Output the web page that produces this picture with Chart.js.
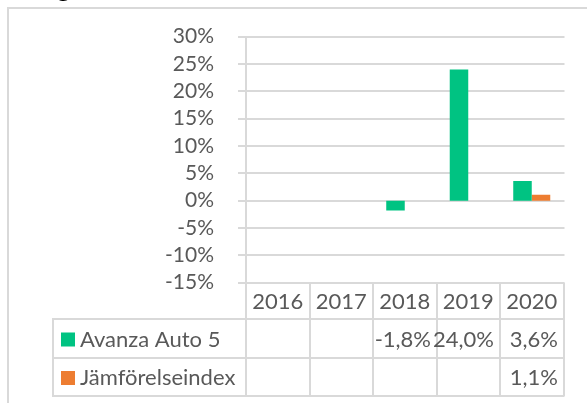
<!DOCTYPE html>
<html>
<head>
<meta charset="utf-8">
<script src="https://cdn.jsdelivr.net/npm/chart.js@4"></script>
<style>
  html, body { margin: 0; padding: 0; background: #fff; }
  #wrap { width: 587px; height: 403px; position: relative; }
</style>
</head>
<body>
<div id="wrap"><canvas id="chart" width="587" height="403"></canvas></div>
<script>
const years = ["2016", "2017", "2018", "2019", "2020"];
const avanzaAuto5 = [null, null, -1.8, 24.0, 3.6];
const jamforelseindex = [null, null, null, null, 1.1];
const seriesNames = ["Avanza Auto 5", "Jämförelseindex"];
const seriesColors = ["#00C382", "#ED7D31"];
const yMin = -15, yMax = 30, yStep = 5;

const FONT = "Lato, 'Open Sans', sans-serif";
const GRID = "#D9D9D9";
const TEXT = "#595959";

const fmt = v => (v === null ? "" : v.toFixed(1).replace(".", ",") + "%");

// horizontal value gridlines, taken from the y scale ticks
const gridPlugin = {
  id: "valueGrid",
  beforeDatasetsDraw(chart) {
    const { ctx, chartArea, scales } = chart;
    const y = scales.y;
    ctx.save();
    ctx.strokeStyle = GRID;
    ctx.lineWidth = 2;
    ctx.beginPath();
    y.ticks.forEach(t => {
      const py = Math.round(y.getPixelForValue(t.value));
      ctx.moveTo(chartArea.left - 8, py);
      ctx.lineTo(chartArea.right + 1, py);
    });
    ctx.stroke();
    ctx.restore();
  }
};

// draws the data table under the plot plus the outer frame
const tablePlugin = {
  id: "dataTable",
  afterDraw(chart) {
    const { ctx, chartArea, scales } = chart;
    const x = scales.x;
    const left = chartArea.left, right = chartArea.right;
    const colW = (right - left) / years.length;
    const top = chartArea.bottom;
    const row1 = 319, row2 = 358, bottom = 396;
    const legendLeft = 53;

    ctx.save();
    ctx.strokeStyle = GRID;
    ctx.lineWidth = 2;

    // outer frame (only top/left visible)
    ctx.beginPath();
    ctx.moveTo(8, 403);
    ctx.lineTo(8, 8);
    ctx.lineTo(587, 8);
    ctx.stroke();

    ctx.beginPath();
    ctx.moveTo(legendLeft - 1, row1); ctx.lineTo(right + 1, row1);
    ctx.moveTo(legendLeft - 1, row2); ctx.lineTo(right + 1, row2);
    ctx.moveTo(legendLeft - 1, bottom); ctx.lineTo(right + 1, bottom);
    ctx.moveTo(legendLeft, row1); ctx.lineTo(legendLeft, bottom);
    for (let i = 0; i <= years.length; i++) {
      const cx = Math.round(left + i * colW);
      ctx.moveTo(cx, i === 0 ? chartArea.top : top);
      ctx.lineTo(cx, bottom);
    }
    ctx.stroke();

    ctx.font = "22px " + FONT;
    ctx.fillStyle = TEXT;
    ctx.textBaseline = "middle";

    ctx.textAlign = "center";
    years.forEach((yr, i) => {
      ctx.fillText(yr, x.getPixelForValue(i), (top + row1) / 2 + 1);
    });

    const rows = [avanzaAuto5, jamforelseindex];
    const rowMid = [(row1 + row2) / 2 + 1, (row2 + bottom) / 2 + 1];
    rows.forEach((vals, r) => {
      ctx.fillStyle = seriesColors[r];
      ctx.fillRect(61, rowMid[r] - 7, 14, 14);
      ctx.fillStyle = TEXT;
      ctx.textAlign = "left";
      ctx.fillText(seriesNames[r], 80, rowMid[r]);
      ctx.textAlign = "right";
      vals.forEach((v, i) => {
        ctx.fillText(fmt(v), Math.round(left + (i + 1) * colW) - 6, rowMid[r]);
      });
    });

    // clipped title tail from the page above
    ctx.fillStyle = "#000";
    ctx.font = "bold 26px " + FONT;
    ctx.textAlign = "left";
    ctx.textBaseline = "alphabetic";
    ctx.fillText("g", 57, -3);
    ctx.restore();
  }
};

new Chart(document.getElementById("chart"), {
  type: "bar",
  data: {
    labels: years,
    datasets: [
      { label: seriesNames[0], data: avanzaAuto5, backgroundColor: seriesColors[0] },
      { label: seriesNames[1], data: jamforelseindex, backgroundColor: seriesColors[1] }
    ]
  },
  options: {
    responsive: false,
    animation: false,
    events: [],
    categoryPercentage: 0.583,
    barPercentage: 1,
    layout: { padding: { left: 0, top: 36, right: 23.5, bottom: 120.3 } },
    plugins: {
      legend: { display: false },
      title: { display: false },
      tooltip: { enabled: false }
    },
    scales: {
      x: { display: false },
      y: {
        min: yMin,
        max: yMax,
        afterFit(scale) { scale.width = 246; },
        border: { display: false },
        grid: { display: false },
        ticks: {
          stepSize: yStep,
          autoSkip: false,
          padding: 24,
          color: TEXT,
          font: { family: FONT, size: 21 },
          callback: v => v + "%"
        }
      }
    }
  },
  plugins: [gridPlugin, tablePlugin]
});
</script>
</body>
</html>
